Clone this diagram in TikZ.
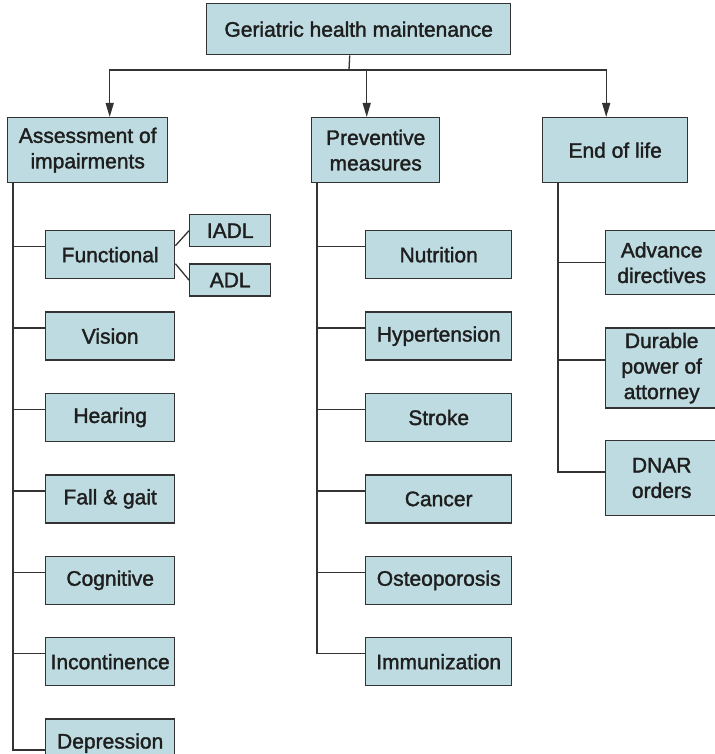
\documentclass[tikz,border=0pt]{standalone}
\usepackage{fontspec}
\setmainfont{Liberation Sans}
\newfontfamily\boxfont{Liberation Sans}[FakeBold=1.6]
\usepackage{xcolor}
\definecolor{Ink}{HTML}{1E1E1E}
\definecolor{Edge}{HTML}{333333}
\definecolor{Fill}{HTML}{BDDBE0}
\usepackage{tikz}
\usetikzlibrary{arrows.meta,positioning}
\tikzset{
  box/.style={draw=Edge,fill=Fill,line width=1.4pt,align=center,text=Ink,
    font=\boxfont\fontsize{21}{25.5}\selectfont,inner sep=0pt,minimum height=48pt},
  head/.style={box,minimum height=65pt},
  leaf/.style={box,minimum width=129pt},
  mid/.style={box,minimum width=146pt},
  side/.style={box,minimum height=32pt,minimum width=81pt},
  life/.style={box,minimum width=112pt},
  line/.style={draw=Edge,line width=1.3pt},
  arrow/.style={line,-{Triangle[length=14pt,width=8pt]}}
}

\begin{document}
\begin{tikzpicture}[x=1pt,y=-1pt]
\useasboundingbox (0,0) rectangle (714,754);
% top level
\node[box,minimum width=304pt,minimum height=51pt,anchor=north west] (top) at (206,3)
  {Geriatric health maintenance};
\node[head,minimum width=160pt,anchor=north west] (assess) at (7,117)
  {Assessment of\\impairments};
\node[head,minimum width=128pt,anchor=north west] (prev) at (311,117)
  {Preventive\\measures};
\node[head,minimum width=145pt,anchor=north west] (life) at (542,117)
  {End of life};
\coordinate (bus) at (349,70);
\draw[line] ([xshift=-9pt]top.south) -- (bus);
\draw[arrow] (bus) -| ([xshift=22pt]assess.north);
\draw[arrow] (bus) -| ([xshift=-9pt]prev.north);
\draw[arrow] (bus) -| ([xshift=-9pt]life.north);

% assessment of impairments
\node[leaf,anchor=north west] (func) at (45,230) {Functional};
\node[leaf,below=32pt of func] (vision) {Vision};
\node[leaf,below=32pt of vision] (hear) {Hearing};
\node[leaf,below=32pt of hear] (fall) {Fall \& gait};
\node[leaf,below=32pt of fall] (cogn) {Cognitive};
\node[leaf,below=32pt of cogn] (incont) {Incontinence};
\node[leaf,below=32pt of incont] (depr) {Depression};
\node[side,anchor=north west] (iadl) at (189,214) {IADL};
\node[side,below=16pt of iadl] (adl) {ADL};
\draw[line] ([yshift=9pt]func.east) -- (iadl.west);
\draw[line] ([yshift=-9pt]func.east) -- (adl.west);
\foreach \n/\s in {func/8,vision/8,hear/8,fall/8,cogn/8,incont/8,depr/-7}
  \draw[line] ([xshift=6pt]assess.south west) |- ([yshift=\s pt]\n.west);

% preventive measures
\node[mid,anchor=north west] (nutr) at (365,230) {Nutrition};
\node[mid,below=32pt of nutr] (hyper) {Hypertension};
\node[mid,below=32pt of hyper] (stroke) {Stroke};
\node[mid,below=32pt of stroke] (cancer) {Cancer};
\node[mid,below=32pt of cancer] (osteo) {Osteoporosis};
\node[mid,below=32pt of osteo] (immun) {Immunization};
\foreach \n in {nutr,hyper,stroke,cancer,osteo,immun}
  \draw[line] ([xshift=6pt]prev.south west) |- ([yshift=8pt]\n.west);

% end of life
\node[life,minimum height=64pt,anchor=north west] (adv) at (605,230)
  {Advance\\directives};
\node[life,minimum height=80pt,below=32pt of adv] (dura)
  {Durable\\power of\\attorney};
\node[life,minimum height=75pt,below=31pt of dura] (dnar)
  {DNAR\\orders};
\foreach \n/\s in {adv/0,dura/8,dnar/6}
  \draw[line] ([xshift=16pt]life.south west) |- ([yshift=\s pt]\n.west);
\end{tikzpicture}
\end{document}
